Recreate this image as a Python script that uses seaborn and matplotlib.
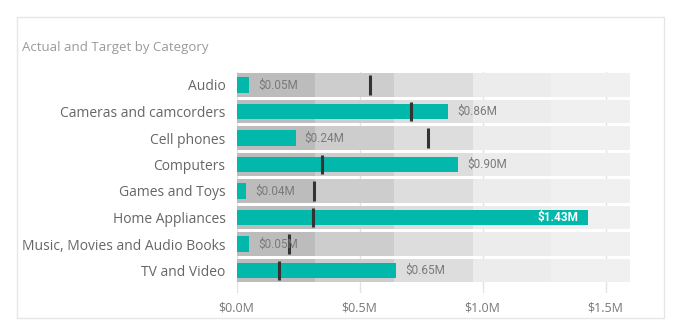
import numpy as np
import pandas as pd
import matplotlib
matplotlib.use("Agg")
import matplotlib.pyplot as plt
import seaborn as sns
from matplotlib.patches import Rectangle

categories = ["Audio", "Cameras and camcorders", "Cell phones", "Computers",
              "Games and Toys", "Home Appliances", "Music, Movies and Audio Books",
              "TV and Video"]
actual = [0.05, 0.86, 0.24, 0.90, 0.04, 1.43, 0.05, 0.65]
target = [0.544, 0.711, 0.778, 0.346, 0.315, 0.312, 0.212, 0.174]
band_edges = [0.32, 0.64, 0.96, 1.28, 1.60]
band_colors = ["#bcbcbc", "#cdcdcd", "#dddddd", "#ececec", "#f0f0f0"]
xticks = [0.0, 0.5, 1.0, 1.5]
xticklabels = ["$0.0M", "$0.5M", "$1.0M", "$1.5M"]

sns.set_theme(style="white")
plt.rcParams['font.family'] = ['Open Sans', 'DejaVu Sans']

W, H = 684, 333
fig = plt.figure(figsize=(W / 100, H / 100), dpi=100)

# card border
fig.patches.append(Rectangle((17 / W, 1 - 318 / H), (664 - 17) / W, (318 - 17) / H,
                             transform=fig.transFigure, fill=False,
                             edgecolor="#e6e6e6", linewidth=1.0))
fig.text(22 / W, 1 - 47 / H, "Actual and Target by Category", color="#9a9a9a",
         fontsize=9.5, va="center", ha="left")

left, right = 236.5, 630.1
top_px, bot_px = 71.75, 293
ax = fig.add_axes([left / W, 1 - bot_px / H, (right - left) / W, (bot_px - top_px) / H])

df = pd.DataFrame({"category": categories, "actual": actual, "target": target})
n = len(categories)
pos = np.arange(n)

# bands
prev = 0.0
for edge, col in zip(band_edges, band_colors):
    ax.barh(pos, [edge - prev] * n, left=prev, height=0.9, color=col, zorder=1, linewidth=0)
    prev = edge

sns.barplot(data=df, x="actual", y="category", color="#01B8AA", width=0.57,
            saturation=1, ax=ax, zorder=3, linewidth=0)

ax.vlines(df["target"], pos - 0.36, pos + 0.36, color="#333333", linewidth=2.2, zorder=4)

for i, v in enumerate(actual):
    lab = f"${v:.2f}M"
    if v > 1.3:
        ax.text(v - 0.04, i, lab, color="white", fontweight="bold", fontsize=8.5,
                va="center", ha="right", zorder=5, family=["Roboto", "DejaVu Sans"])
    else:
        ax.text(v + 0.037, i, lab, color="#7a7a7a", fontsize=8.5,
                va="center", ha="left", zorder=5, family=["Roboto", "DejaVu Sans"])

ax.set_xlim(0, 1.6)
ax.set_ylim(7.5 + (bot_px - 283.75) / 26.5, -0.5)
ax.set_xticks(xticks)
ax.set_xticklabels(xticklabels, color="#777777", fontsize=9)
ax.tick_params(axis="y", labelsize=10, labelcolor="#666666", length=0, pad=8)
ax.tick_params(axis="x", length=0, pad=6)
ax.set_xlabel("")
ax.set_ylabel("")
for s in ax.spines.values():
    s.set_visible(False)
ax.grid(axis="x", color="#e3e3e3", linewidth=1.0, zorder=0)
ax.set_axisbelow(True)

fig.savefig("out.png", dpi=100)
